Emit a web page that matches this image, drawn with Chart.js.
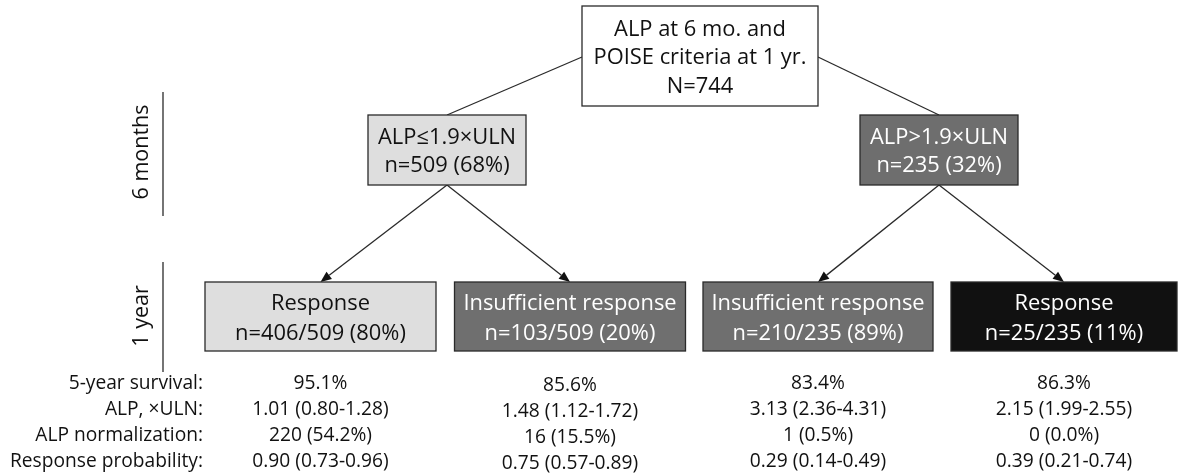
<!DOCTYPE html>
<html>
<head>
<meta charset="utf-8">
<script src="https://cdn.jsdelivr.net/npm/chart.js@4/dist/chart.umd.min.js"></script>
<style>
  html, body { margin: 0; padding: 0; background: #ffffff; }
  #wrap { width: 1179px; height: 476px; position: relative; }
</style>
</head>
<body>
<div id="wrap"><canvas id="c" width="1179" height="476"></canvas></div>
<script>
// ---------------- DATA ----------------
const rootLines = ['ALP at 6 mo. and', 'POISE criteria at 1 yr.'];
const rootN = 744;

const midLabels = ['ALP\u22641.9\u00d7ULN', 'ALP>1.9\u00d7ULN'];
const midN = [509, 235];
const midPct = [68, 32];

const categories = ['Response', 'Insufficient response', 'Insufficient response', 'Response'];
const leafN = [406, 103, 210, 25];
const leafTotal = [509, 509, 235, 235];
const leafPct = [80, 20, 89, 11];

const rowLabels = ['5-year survival:', 'ALP, \u00d7ULN:', 'ALP normalization:', 'Response probability:'];
const survival = [95.1, 85.6, 83.4, 86.3];
const alpMedian = [1.01, 1.48, 3.13, 2.15];
const alpLow = [0.80, 1.12, 2.36, 1.99];
const alpHigh = [1.28, 1.72, 4.31, 2.55];
const normN = [220, 16, 1, 0];
const normPct = [54.2, 15.5, 0.5, 0.0];
const respProb = [0.90, 0.75, 0.29, 0.39];
const respLow = [0.73, 0.57, 0.14, 0.21];
const respHigh = [0.96, 0.89, 0.49, 0.74];

const timeLabels = ['6 months', '1 year'];

// ---------------- LAYOUT (scale units) ----------------
const L = {
  root: { cx: 700, cy: 56, w: 236, h: 100 },
  mid: { cx: [447, 939], cy: 150, w: 158, h: 70 },
  leaf: { cx: [320.5, 570, 818, 1064], cy: 316.5, w: [231, 231, 230, 226], h: 69 },
  statsY: [384, 410, 436, 462],
  statsColDy: [0, 2, 0, 0],
  labelRight: 203,
  textDy: 2,
  time: [{ x: 142, y: 152, lineX: 163, y0: 92, y1: 216 }, { x: 142, y: 316, lineX: 163, y0: 262, y1: 372 }]
};
const STY = {
  font: '"Open Sans", Lato, sans-serif',
  boxFont: 21.9, statFont: 19.2, timeFont: 21.5,
  lineH: 28.5, leafLineH: 30,
  midFill: ['#dedede', '#6e6e6e'], midText: ['#111111', '#ffffff'],
  leafFill: ['#dedede', '#6f6f6f', '#6f6f6f', '#111111'],
  leafText: ['#111111', '#ffffff', '#ffffff', '#ffffff'],
  stroke: '#2a2a2a', text: '#111111'
};

// points for datasets (node centers)
const rootPts = [{ x: L.root.cx, y: L.root.cy }];
const midPts = L.mid.cx.map(x => ({ x, y: L.mid.cy }));
const leafPts = L.leaf.cx.map(x => ({ x, y: L.leaf.cy }));

const fmt2 = v => v.toFixed(2);
const statRows = [
  survival.map(v => v.toFixed(1) + '%'),
  alpMedian.map((v, i) => fmt2(v) + ' (' + fmt2(alpLow[i]) + '-' + fmt2(alpHigh[i]) + ')'),
  normN.map((v, i) => v + ' (' + normPct[i].toFixed(1) + '%)'),
  respProb.map((v, i) => fmt2(v) + ' (' + fmt2(respLow[i]) + '-' + fmt2(respHigh[i]) + ')')
];

function drawBox(ctx, x, y, w, h, fill) {
  ctx.save();
  ctx.fillStyle = fill;
  ctx.fillRect(x - w / 2, y - h / 2, w, h);
  ctx.lineWidth = 1.3;
  ctx.strokeStyle = STY.stroke;
  ctx.strokeRect(x - w / 2, y - h / 2, w, h);
  ctx.restore();
}
function drawLines(ctx, lines, x, y, lh, color, size) {
  ctx.save();
  ctx.fillStyle = color;
  ctx.font = size + 'px ' + STY.font;
  ctx.textAlign = 'center';
  ctx.textBaseline = 'middle';
  const top = y - (lines.length - 1) * lh / 2;
  lines.forEach((t, i) => ctx.fillText(t, x, top + i * lh));
  ctx.restore();
}
function line(ctx, x0, y0, x1, y1) {
  ctx.save();
  ctx.strokeStyle = STY.stroke; ctx.lineWidth = 1.3;
  ctx.beginPath(); ctx.moveTo(x0, y0); ctx.lineTo(x1, y1); ctx.stroke();
  ctx.restore();
}
function arrow(ctx, x0, y0, x1, y1) {
  const ang = Math.atan2(y1 - y0, x1 - x0);
  const len = 11, wid = 4.5;
  const bx = x1 - len * Math.cos(ang), by = y1 - len * Math.sin(ang);
  line(ctx, x0, y0, bx, by);
  ctx.save();
  ctx.fillStyle = '#111';
  ctx.beginPath();
  ctx.moveTo(x1, y1);
  ctx.lineTo(bx + wid * Math.sin(ang), by - wid * Math.cos(ang));
  ctx.lineTo(bx - wid * Math.sin(ang), by + wid * Math.cos(ang));
  ctx.closePath(); ctx.fill();
  ctx.restore();
}

const flowPlugin = {
  id: 'flow',
  afterDatasetsDraw(chart) {
    const ctx = chart.ctx;
    const xs = chart.scales.x, ys = chart.scales.y;
    const px = v => xs.getPixelForValue(v), py = v => ys.getPixelForValue(v);
    const sw = v => Math.abs(xs.getPixelForValue(v) - xs.getPixelForValue(0));
    const sh = v => Math.abs(ys.getPixelForValue(v) - ys.getPixelForValue(0));
    const root = chart.getDatasetMeta(0).data[0];
    const mids = chart.getDatasetMeta(1).data;
    const leaves = chart.getDatasetMeta(2).data;
    const tdy = sh(L.textDy);

    const rw = sw(L.root.w), rh = sh(L.root.h);
    const mw = sw(L.mid.w), mh = sh(L.mid.h);
    const lh = sh(L.leaf.h);

    // connectors root -> mid
    line(ctx, root.x - rw / 2, root.y + 1, mids[0].x, mids[0].y - mh / 2);
    line(ctx, root.x + rw / 2, root.y + 1, mids[1].x, mids[1].y - mh / 2);
    // arrows mid -> leaves
    leaves.forEach((lf, i) => {
      const m = mids[Math.floor(i / 2)];
      arrow(ctx, m.x, m.y + mh / 2, lf.x, lf.y - lh / 2);
    });

    // root box
    drawBox(ctx, root.x, root.y, rw, rh, '#ffffff');
    drawLines(ctx, rootLines.concat(['N=' + rootN]), root.x, root.y + tdy, sh(STY.lineH), STY.text, STY.boxFont);

    // mid boxes
    mids.forEach((m, i) => {
      drawBox(ctx, m.x, m.y, mw, mh, STY.midFill[i]);
      drawLines(ctx, [midLabels[i], 'n=' + midN[i] + ' (' + midPct[i] + '%)'], m.x, m.y + tdy, sh(STY.lineH), STY.midText[i], STY.boxFont);
    });

    // leaf boxes
    leaves.forEach((lf, i) => {
      drawBox(ctx, lf.x, lf.y, sw(L.leaf.w[i]), lh, STY.leafFill[i]);
      drawLines(ctx, [categories[i], 'n=' + leafN[i] + '/' + leafTotal[i] + ' (' + leafPct[i] + '%)'],
        lf.x, lf.y + tdy, sh(STY.leafLineH), STY.leafText[i], STY.boxFont);
    });

    // time labels
    L.time.forEach((t, i) => {
      line(ctx, px(t.lineX), py(t.y0), px(t.lineX), py(t.y1));
      ctx.save();
      ctx.translate(px(t.x), py(t.y));
      ctx.rotate(-Math.PI / 2);
      ctx.fillStyle = STY.text;
      ctx.font = STY.timeFont + 'px ' + STY.font;
      ctx.textAlign = 'center'; ctx.textBaseline = 'middle';
      ctx.fillText(timeLabels[i], 0, 0);
      ctx.restore();
    });

    // stats table
    ctx.save();
    ctx.fillStyle = STY.text;
    ctx.font = STY.statFont + 'px ' + STY.font;
    ctx.textBaseline = 'middle';
    rowLabels.forEach((lab, r) => {
      ctx.textAlign = 'right';
      ctx.fillText(lab, px(L.labelRight), py(L.statsY[r]));
      ctx.textAlign = 'center';
      statRows[r].forEach((txt, c) => {
        ctx.fillText(txt, leaves[c].x, py(L.statsY[r] + L.statsColDy[c]));
      });
    });
    ctx.restore();
  }
};

new Chart(document.getElementById('c'), {
  type: 'scatter',
  data: {
    datasets: [
      { label: 'root', data: rootPts, pointRadius: 0 },
      { label: 'mid', data: midPts, pointRadius: 0 },
      { label: 'leaf', data: leafPts, pointRadius: 0 }
    ]
  },
  options: {
    responsive: false,
    animation: false,
    events: [],
    layout: { padding: 0 },
    plugins: { legend: { display: false }, tooltip: { enabled: false } },
    scales: {
      x: { type: 'linear', min: 0, max: 1179, display: false },
      y: { type: 'linear', min: 0, max: 476, reverse: true, display: false }
    }
  },
  plugins: [flowPlugin]
});
</script>
</body>
</html>
